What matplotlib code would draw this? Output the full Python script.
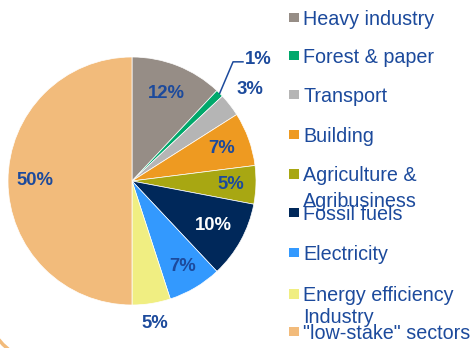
import numpy as np
import matplotlib
matplotlib.use("Agg")
import matplotlib.pyplot as plt
from matplotlib.patches import Rectangle
from matplotlib.lines import Line2D

# sector shares in percent, clockwise from 12 o'clock
sectors = ["Heavy industry", "Forest & paper", "Transport", "Building",
           "Agriculture &\nAgribusiness", "Fossil fuels", "Electricity",
           "Energy efficiency", 'Industry\n"low-stake" sectors']
shares = [12, 1, 3, 7, 5, 10, 7, 5, 50]
colors = ["#968d86", "#00a86b", "#b5b5b5", "#ee9a21", "#a8a712",
          "#00285a", "#3399fe", "#f0ee82", "#f2bb7b"]

# label placement: radius (in pie radii) along the mid angle of each wedge
label_r = [0.76, None, 1.2, 0.77, 0.80, 0.745, 0.80, 1.16, 0.78]
label_col = ["#1c4a9c"] * 9
label_col[5] = "white"

# legend marker centres (pixel rows from top)
legend_y = [17.3, 55.3, 94.7, 134.7, 174, 212.5, 252.7, 294, 331.3]

W, H = 470, 348
blue = "#1c4a9c"
plt.rcParams["font.family"] = ["Liberation Sans", "DejaVu Sans"]

fig = plt.figure(figsize=(W / 100, H / 100), dpi=100)

# pie axes: centre (132, 181) px, radius 124 px
cx, cy, rad = 132, 181, 124
ax = fig.add_axes([(cx - rad) / W, (H - cy - rad) / H, 2 * rad / W, 2 * rad / H])
wedges, _ = ax.pie(shares, colors=colors, startangle=90, counterclock=False,
                   radius=1, wedgeprops=dict(edgecolor="white", linewidth=0.5))
ax.set_xlim(-1, 1)
ax.set_ylim(-1, 1)
ax.set_aspect("equal")
ax.axis("off")

for i, w in enumerate(wedges):
    mid = np.deg2rad((w.theta1 + w.theta2) / 2)
    txt = f"{shares[i]}%"
    if label_r[i] is None:
        # small slice: leader line out to the label
        x0, y0 = np.cos(mid), np.sin(mid)
        x1, y1 = 1.26 * np.cos(np.deg2rad(49.7)), 1.26 * np.sin(np.deg2rad(49.7))
        x2 = x1 + 0.08
        ax.plot([x0, x1, x2], [y0, y1, y1], color=blue, lw=1.1, clip_on=False)
        ax.text(x2 + 0.015, y1 + 0.02, txt, color=label_col[i], fontsize=13.3,
                fontweight="bold", ha="left", va="center")
        continue
    r = label_r[i]
    ax.text(r * np.cos(mid), r * np.sin(mid), txt, color=label_col[i],
            fontsize=13.3, fontweight="bold", ha="center", va="center")

# legend drawn by hand in pixel coordinates
for i, name in enumerate(sectors):
    yc = legend_y[i]
    fig.add_artist(Rectangle((289 / W, 1 - (yc + 4.7) / H), 9.5 / W, 9.4 / H,
                             facecolor=colors[i], edgecolor="none",
                             transform=fig.transFigure))
    lines = name.split("\n")
    if i == len(sectors) - 1:
        # extra line sits just above the marker row
        offs = [-16 * (len(lines) - 1 - k) for k in range(len(lines))]
    else:
        offs = [25.5 * k for k in range(len(lines))]
    for line, off in zip(lines, offs):
        fig.text(303 / W, 1 - (yc + 7.3 + off) / H, line, color=blue,
                 fontsize=14.2, ha="left", va="baseline")

# decorative arc in the lower left corner
fig.add_artist(Line2D([0, 3 / W, 7 / W], [1 - 341 / H, 1 - 344.5 / H, 1 - 348 / H],
                      color="#f2bb7b", lw=2.5, transform=fig.transFigure))

fig.savefig("out.png", dpi=100)
